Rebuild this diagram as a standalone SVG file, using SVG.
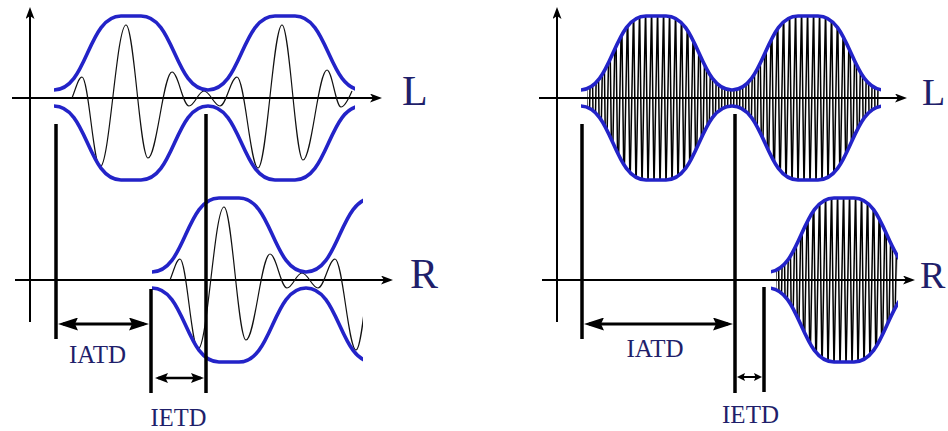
<svg xmlns="http://www.w3.org/2000/svg" width="948" height="431" viewBox="0 0 948 431">
<style>
.ax{stroke:#000;stroke-width:2;fill:none}
.mk{stroke:#000;stroke-width:3.5}
.dim{stroke:#000;stroke-width:3;fill:none}
.dims{stroke:#000;stroke-width:2.5;fill:none}
.dimt{stroke:#000;stroke-width:2;fill:none}
.env{fill:none;stroke:#2323c8;stroke-width:3.6}
.wave{fill:none;stroke:#111;stroke-width:1.2}
.hf{fill:url(#hf);stroke:none}
.lbl{font-family:"Liberation Serif","Times New Roman",serif;fill:#1f1f6b}
.big{font-size:42px}
.edge{font-size:38px}
.sm{font-size:25px;text-anchor:middle}
</style>
<defs>
<marker id="ah" viewBox="0 0 12 9" refX="9" refY="4.5" markerWidth="12" markerHeight="9" markerUnits="userSpaceOnUse" orient="auto"><path d="M0,0 L12,4.5 L0,9 L3,4.5 Z" fill="#000"/></marker>
<marker id="db" viewBox="0 0 20 13" refX="15" refY="6.5" markerWidth="20" markerHeight="13" markerUnits="userSpaceOnUse" orient="auto-start-reverse"><path d="M0,0 L20,6.5 L0,13 L3,6.5 Z" fill="#000"/></marker>
<marker id="ds" viewBox="0 0 13 10" refX="10" refY="5" markerWidth="13" markerHeight="10" markerUnits="userSpaceOnUse" orient="auto-start-reverse"><path d="M0,0 L13,5 L0,10 L2.5,5 Z" fill="#000"/></marker>
<marker id="dt" viewBox="0 0 8 8" refX="6" refY="4" markerWidth="8" markerHeight="8" markerUnits="userSpaceOnUse" orient="auto-start-reverse"><path d="M0,0 L8,4 L0,8 L1.5,4 Z" fill="#000"/></marker>
<pattern id="hf" patternUnits="userSpaceOnUse" x="0" y="7" width="6" height="182"><path d="M0,181 L3.6,1 L6,181" fill="none" stroke="#000" stroke-width="1.5"/></pattern>
<clipPath id="cLL"><rect x="40" y="0" width="315" height="200"/></clipPath>
<clipPath id="cRL"><rect x="150" y="185" width="213" height="190"/></clipPath>
<clipPath id="cLRe"><rect x="581" y="0" width="300" height="200"/></clipPath>
<clipPath id="cLRf"><rect x="587" y="0" width="293" height="200"/></clipPath>
<clipPath id="cRRe"><rect x="771" y="185" width="127" height="190"/></clipPath>
<clipPath id="cRRf"><rect x="776" y="185" width="122" height="190"/></clipPath>
<g id="burstL">
<path class="wave" d="M72,98 C76,88 78.5,77 82,77 C88.5,77 93.5,167 100,167 C109.5,167 116.5,25 126,25 C134,25 140,158 148,158 C156.7,158 163.3,72 172,72 C178.2,72 182.8,106 189,106 C194.5,106 198.5,91 204,91 C209.8,91 214.2,106 220,106 C226.2,106 230.8,77 237,77 C244.6,77 250.4,168 258,168 C266.7,168 273.3,25 282,25 C289.6,25 295.4,160 303,160 C311.7,160 318.3,70 327,70 C332.1,70 335.9,107 341,107 C345,107 349,98 352,91"/>
<path class="env" d="M54,90 C87.5,90 87.5,16 121,16 H141 C174.5,16 174.5,90 208,90 C241.5,90 241.5,16 275,16 H295 C328.5,16 328.5,90 362,90"/>
<path class="env" d="M54,106 C87.5,106 87.5,180 121,180 H141 C174.5,180 174.5,106 208,106 C241.5,106 241.5,180 275,180 H295 C328.5,180 328.5,106 362,106"/>
</g>
<path id="envRT" d="M580,90 C613,90 613,16 646,16 H666 C699,16 699,90 732,90 C765,90 765,16 798,16 H818 C851,16 851,90 884,90"/>
</defs>
<rect width="948" height="431" fill="#fff"/>

<g id="left-panel">
<g id="left-axes">
<line class="ax" x1="30" y1="322" x2="30" y2="10" marker-end="url(#ah)"/>
<line class="ax" x1="12" y1="98" x2="379" y2="98" marker-end="url(#ah)"/>
<line class="ax" x1="15" y1="280" x2="390" y2="280" marker-end="url(#ah)"/>
</g>
<g id="left-L-signal" clip-path="url(#cLL)"><use href="#burstL"/></g>
<g id="left-R-signal" clip-path="url(#cRL)"><use href="#burstL" transform="translate(98,182)"/></g>
<g id="left-markers">
<line class="mk" x1="56" y1="124" x2="56" y2="339"/>
<line class="mk" x1="151" y1="289" x2="151" y2="393"/>
<line class="mk" x1="206" y1="114" x2="206" y2="393"/>
</g>
<g id="left-dims">
<line class="dim" x1="63" y1="324" x2="144" y2="324" marker-start="url(#db)" marker-end="url(#db)"/>
<line class="dims" x1="158" y1="378" x2="201" y2="378" marker-start="url(#ds)" marker-end="url(#ds)"/>
</g>
<g id="left-labels">
<text class="lbl big" x="402" y="105">L</text>
<text class="lbl big" x="410" y="288">R</text>
<text class="lbl sm" x="97.5" y="363">IATD</text>
<text class="lbl sm" x="178.5" y="425.5" style="font-size:24.5px">IETD</text>
</g>
</g>

<g id="right-panel">
<g id="right-axes">
<line class="ax" x1="557" y1="322" x2="557" y2="10" marker-end="url(#ah)"/>
<line class="ax" x1="539" y1="98" x2="904" y2="98" marker-end="url(#ah)"/>
<line class="ax" x1="542" y1="280" x2="912" y2="280" marker-end="url(#ah)"/>
</g>
<g id="right-L-signal">
<path class="hf" clip-path="url(#cLRf)" d="M580,90 C613,90 613,16 646,16 H666 C699,16 699,90 732,90 C765,90 765,16 798,16 H818 C851,16 851,90 884,90 V106 C851,106 851,180 818,180 H798 C765,180 765,106 732,106 C699,106 699,180 666,180 H646 C613,180 613,106 580,106 Z"/>
<g clip-path="url(#cLRe)">
<use href="#envRT" class="env"/>
<use href="#envRT" class="env" transform="translate(0,196) scale(1,-1)"/>
</g>
</g>
<g id="right-R-signal">
<path class="hf" clip-path="url(#cRRf)" d="M768,272 C801,272 801,198 834,198 H854 C887,198 887,272 920,272 V288 C887,288 887,362 854,362 H834 C801,362 801,288 768,288 Z"/>
<g clip-path="url(#cRRe)">
<path class="env" d="M768,272 C801,272 801,198 834,198 H854 C887,198 887,272 920,272"/>
<path class="env" d="M768,288 C801,288 801,362 834,362 H854 C887,362 887,288 920,288"/>
</g>
</g>
<g id="right-markers">
<line class="mk" x1="582" y1="124" x2="582" y2="339"/>
<line class="mk" x1="735" y1="114" x2="735" y2="393"/>
<line class="mk" x1="764" y1="287" x2="764" y2="392"/>
</g>
<g id="right-dims">
<line class="dim" x1="589" y1="324" x2="728" y2="324" marker-start="url(#db)" marker-end="url(#db)"/>
<line class="dimt" x1="739" y1="377" x2="760" y2="377" marker-start="url(#dt)" marker-end="url(#dt)"/>
</g>
<g id="right-labels">
<text class="lbl edge" x="922" y="105">L</text>
<text class="lbl edge" x="920" y="288">R</text>
<text class="lbl sm" x="655" y="357">IATD</text>
<text class="lbl sm" x="750.5" y="423">IETD</text>
</g>
</g>
</svg>
